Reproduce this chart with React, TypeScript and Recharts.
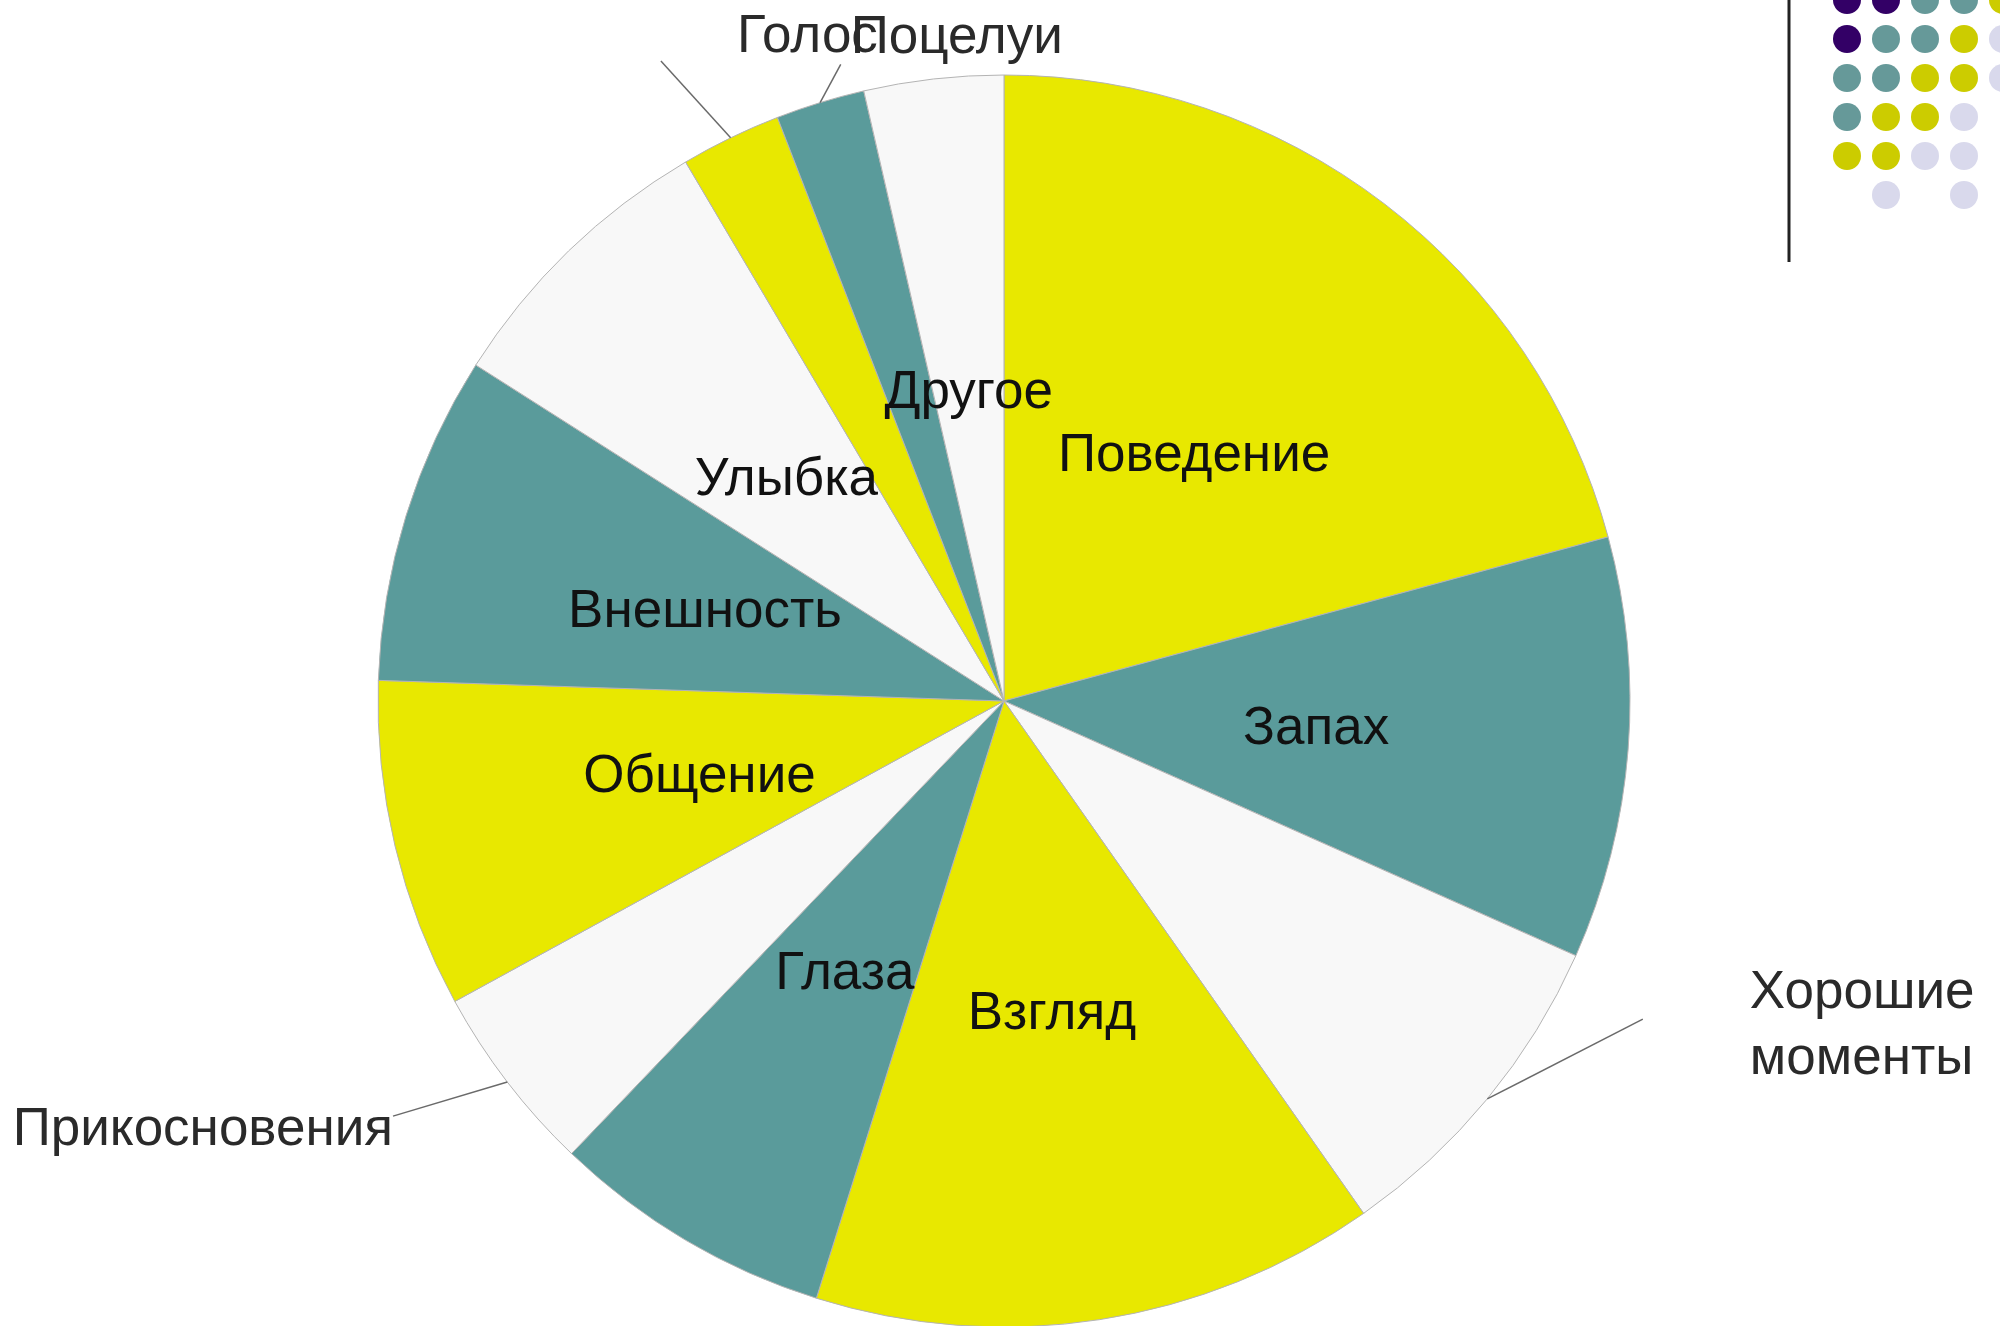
import { PieChart, Pie, Cell } from "recharts";

// slices, clockwise from 12 o'clock
const categories = [
  "Поведение",
  "Запах",
  "Хорошие моменты",
  "Взгляд",
  "Глаза",
  "Прикосновения",
  "Общение",
  "Внешность",
  "Улыбка",
  "Голос",
  "Поцелуи",
  "Другое",
];
const shares = [20.8, 10.9, 8.6, 14.6, 7.3, 4.9, 8.5, 8.5, 7.5, 2.6, 2.3, 3.6];

const YELLOW = "#e8e800";
const TEAL = "#5a9b9b";
const WHITE = "#f8f8f8";
const palette = [YELLOW, TEAL, WHITE];

const chartData = categories.map((name, i) => ({ name, value: shares[i] }));

// labels that sit outside the pie with a leader line
// r = leader end radius (x outerRadius), turn = degrees clockwise from slice middle
const outsideLabels: Record<
  string,
  { r: number; turn: number; dx: number; dy: number; anchor: "start" | "end"; lineGap?: number }
> = {
  "Хорошие моменты": { r: 1.14, turn: -13, dx: 107, dy: -30, anchor: "start", lineGap: 66 },
  Прикосновения: { r: 1.18, turn: 3.3, dx: 0, dy: 10, anchor: "end" },
  Голос: { r: 1.16, turn: -2.3, dx: 76, dy: -27, anchor: "start" },
  Поцелуи: { r: 1.05, turn: 2.7, dx: 10, dy: -30, anchor: "start" },
};

// decoration in the top right corner
const dotColors: Record<string, string> = {
  p: "#330066",
  t: "#669999",
  y: "#cccc00",
  l: "#d9d9ec",
};
const dotRows = ["pptty", "pttyl", "ttyyl", "tyyl.", "yyll.", ".l.l."];

const RAD = Math.PI / 180;
const FONT = "'Liberation Sans', Arial, sans-serif";
const FONT_SIZE = 53;

function renderLabel(props: any) {
  const { cx, cy, midAngle, outerRadius, index } = props;
  const label: string = props.name ?? categories[index];
  const theta = 90 - midAngle; // compass angle
  const pt = (rr: number, deg: number) => [
    cx + rr * Math.sin(deg * RAD),
    cy - rr * Math.cos(deg * RAD),
  ];
  const out = outsideLabels[label];

  if (!out) {
    const [x, y] = pt(outerRadius * 0.5, theta);
    return (
      <text
        x={x}
        y={y}
        textAnchor="middle"
        dominantBaseline="central"
        fill="#111"
        fontSize={FONT_SIZE}
        fontFamily={FONT}
      >
        {label}
      </text>
    );
  }

  const [x0, y0] = pt(outerRadius, theta);
  const [x1, y1] = pt(outerRadius * out.r, theta + out.turn);
  const words = out.lineGap ? label.split(" ") : [label];
  return (
    <g>
      <line x1={x0} y1={y0} x2={x1} y2={y1} stroke="#6a6a6a" strokeWidth={1.5} />
      {words.map((w, i) => (
        <text
          key={w}
          x={x1 + out.dx}
          y={y1 + out.dy + i * (out.lineGap ?? 0)}
          textAnchor={out.anchor}
          dominantBaseline="central"
          fill="#2a2a2a"
          fontSize={FONT_SIZE}
          fontFamily={FONT}
        >
          {w}
        </text>
      ))}
    </g>
  );
}

export default function App() {
  return (
    <div
      style={{
        position: "absolute",
        left: 0,
        top: 0,
        width: 2000,
        height: 1326,
        overflow: "hidden",
        background: "#fff",
      }}
    >
      <PieChart width={2000} height={1326} margin={{ top: 0, right: 0, bottom: 0, left: 0 }}>
        <Pie
          data={chartData}
          dataKey="value"
          nameKey="name"
          cx={1004}
          cy={701}
          outerRadius={626}
          startAngle={90}
          endAngle={-270}
          stroke="#b4b4b4"
          strokeWidth={1}
          label={renderLabel}
          labelLine={false}
          isAnimationActive={false}
        >
          {chartData.map((d, i) => (
            <Cell key={d.name} fill={palette[i % 3]} />
          ))}
        </Pie>
      </PieChart>

      <svg
        width={2000}
        height={1326}
        style={{ position: "absolute", left: 0, top: 0, pointerEvents: "none" }}
      >
        <line x1={1789} y1={0} x2={1789} y2={262} stroke="#222" strokeWidth={3} />
        {dotRows.map((row, r) =>
          row.split("").map((c, col) =>
            c === "." ? null : (
              <circle
                key={`${r}-${col}`}
                cx={1847 + col * 39}
                cy={r * 39}
                r={14}
                fill={dotColors[c]}
              />
            )
          )
        )}
      </svg>
    </div>
  );
}
